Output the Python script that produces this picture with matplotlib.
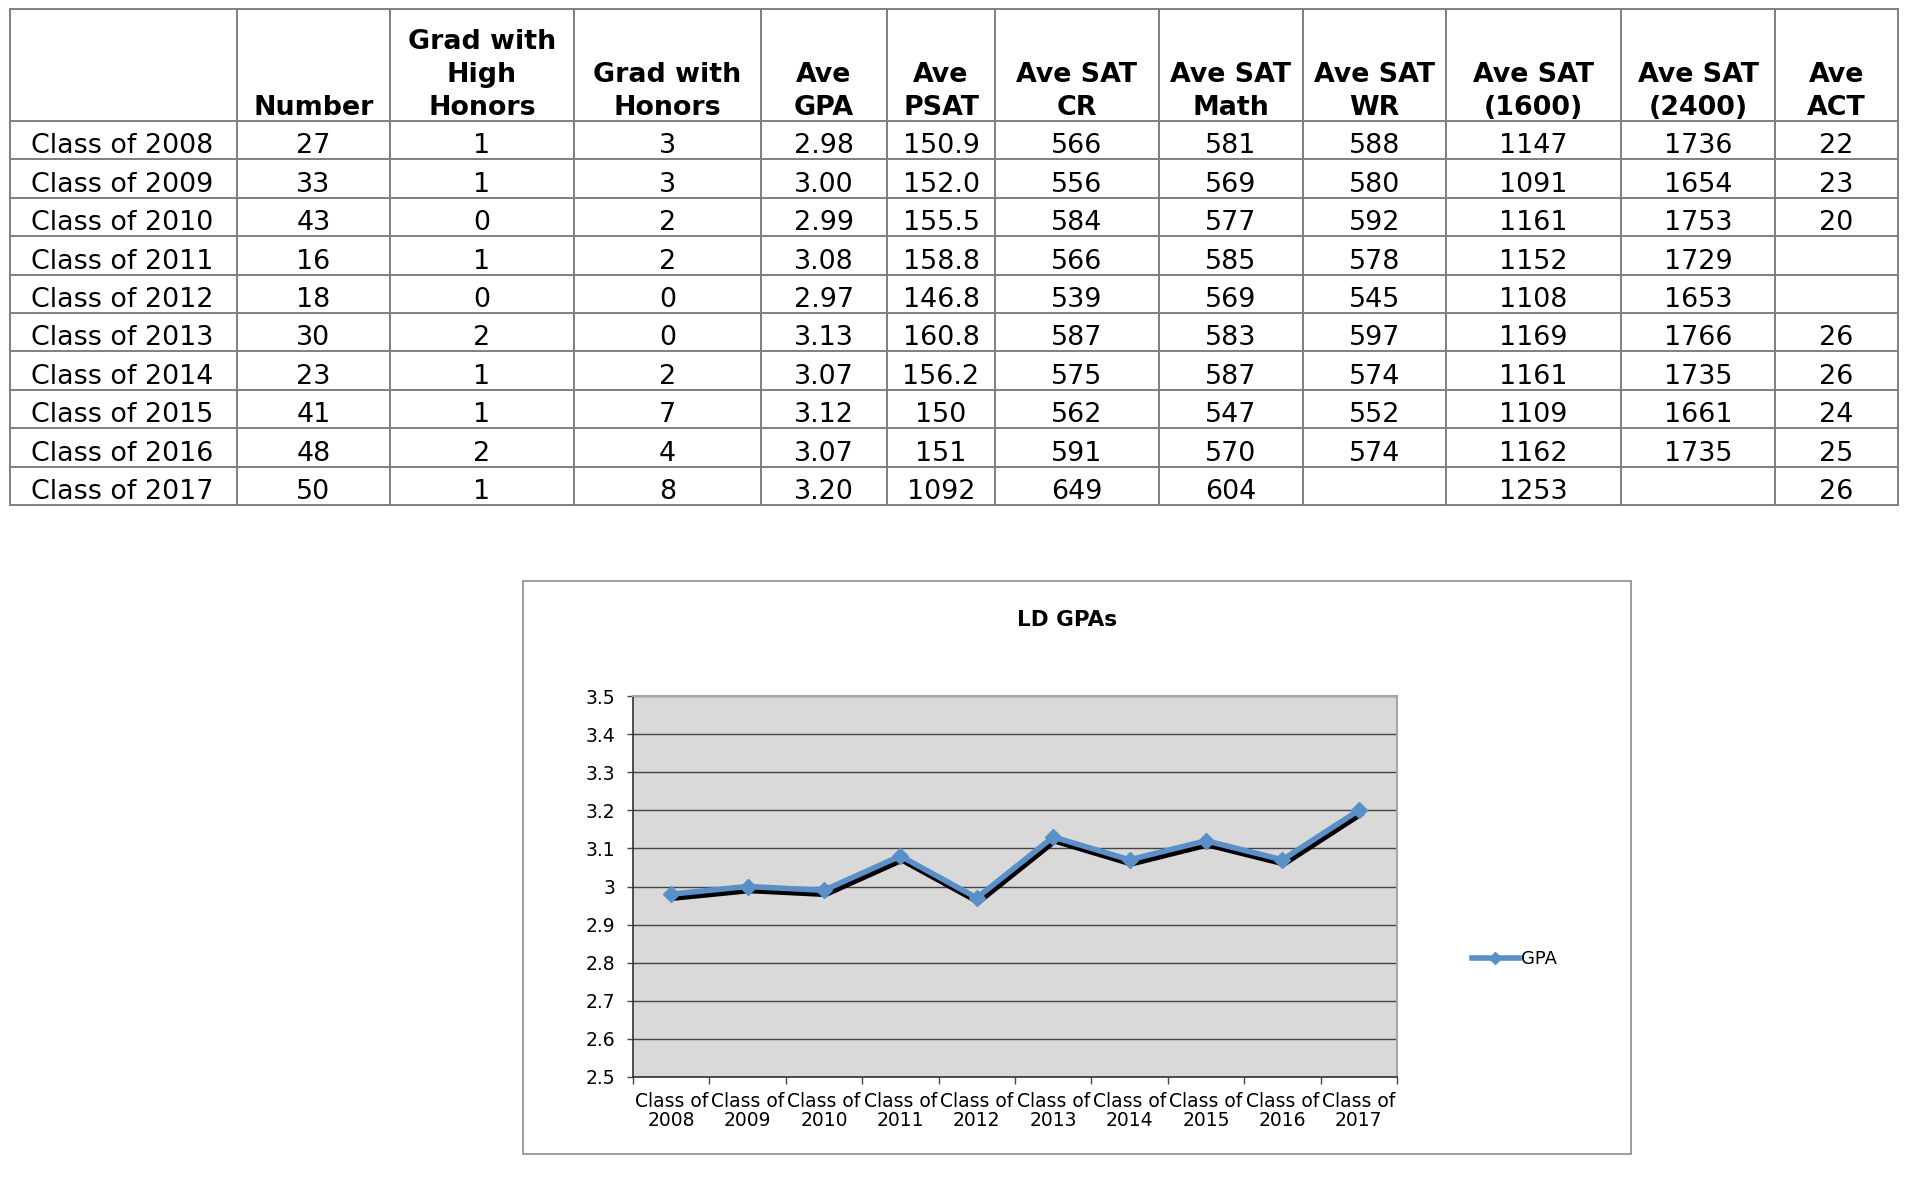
import matplotlib
matplotlib.use('Agg')
import matplotlib.pyplot as plt
import matplotlib.transforms as mtransforms
from matplotlib.patches import Rectangle
from matplotlib.ticker import FuncFormatter
import numpy as np

plt.rcParams['font.family'] = ['DejaVu Sans']

# table data (kept as text, the way it is printed)
classes = ["Class of 2008", "Class of 2009", "Class of 2010", "Class of 2011", "Class of 2012",
           "Class of 2013", "Class of 2014", "Class of 2015", "Class of 2016", "Class of 2017"]
number = ["27", "33", "43", "16", "18", "30", "23", "41", "48", "50"]
high_honors = ["1", "1", "0", "1", "0", "2", "1", "1", "2", "1"]
honors = ["3", "3", "2", "2", "0", "0", "2", "7", "4", "8"]
ave_gpa = ["2.98", "3.00", "2.99", "3.08", "2.97", "3.13", "3.07", "3.12", "3.07", "3.20"]
ave_psat = ["150.9", "152.0", "155.5", "158.8", "146.8", "160.8", "156.2", "150", "151", "1092"]
sat_cr = ["566", "556", "584", "566", "539", "587", "575", "562", "591", "649"]
sat_math = ["581", "569", "577", "585", "569", "583", "587", "547", "570", "604"]
sat_wr = ["588", "580", "592", "578", "545", "597", "574", "552", "574", ""]
sat_1600 = ["1147", "1091", "1161", "1152", "1108", "1169", "1161", "1109", "1162", "1253"]
sat_2400 = ["1736", "1654", "1753", "1729", "1653", "1766", "1735", "1661", "1735", ""]
ave_act = ["22", "23", "20", "", "", "26", "26", "24", "25", "26"]

headers = ["", "Number", "Grad with\nHigh\nHonors", "Grad with\nHonors", "Ave\nGPA", "Ave\nPSAT",
           "Ave SAT\nCR", "Ave SAT\nMath", "Ave SAT\nWR", "Ave SAT\n(1600)", "Ave SAT\n(2400)",
           "Ave\nACT"]

chart_title = "LD GPAs"
series_name = "GPA"
gpa = [float(v) for v in ave_gpa]
chart_labels = [c.replace("of ", "of\n") for c in classes]

W, H = 1928, 1188
fig = plt.figure(figsize=(W / 100, H / 100), dpi=100)

# ---- table, drawn in pixel coordinates ----
ax_t = fig.add_axes([0, 0, 1, 1])
ax_t.set_xlim(0, W)
ax_t.set_ylim(H, 0)
ax_t.axis('off')

col_edges = [10, 237, 390, 574, 761, 887, 995, 1159, 1303, 1446, 1621, 1775, 1898]
top, head_bot, row_h = 9, 121, 38.4
columns = [classes, number, high_honors, honors, ave_gpa, ave_psat, sat_cr, sat_math,
           sat_wr, sat_1600, sat_2400, ave_act]
n_rows = len(classes)
bottom = head_bot + row_h * n_rows
line_kw = dict(color='#7f7f7f', lw=1.4, solid_capstyle='projecting')

for y in [top, head_bot] + [head_bot + row_h * (i + 1) for i in range(n_rows)]:
    ax_t.plot([col_edges[0], col_edges[-1]], [y, y], **line_kw)
for x in col_edges:
    ax_t.plot([x, x], [top, bottom], **line_kw)

for j, head in enumerate(headers):
    xc = (col_edges[j] + col_edges[j + 1]) / 2
    parts = head.split("\n")
    for k, part in enumerate(parts):
        ax_t.text(xc, 115 - (len(parts) - 1 - k) * 33, part, ha='center', va='baseline',
                  fontsize=19.4, fontweight='bold', color='black')

for j, col in enumerate(columns):
    for i, val in enumerate(col):
        yb = head_bot + row_h * (i + 1) - 6
        if j == 0:
            ax_t.text(col_edges[0] + 21, yb, val, ha='left', va='baseline', fontsize=19.4)
        else:
            xc = (col_edges[j] + col_edges[j + 1]) / 2
            ax_t.text(xc, yb, val, ha='center', va='baseline', fontsize=19.4)

# chart frame and title
ax_t.add_patch(Rectangle((523, 581), 1108, 573, fill=False, ec='#8c8c8c', lw=1.2))
ax_t.text(1067, 620, chart_title, ha='center', va='center', fontsize=15.5, fontweight='bold')

# ---- line chart ----
ax = fig.add_axes([633 / W, (H - 1077) / H, 764 / W, 381 / H])
ax.set_facecolor('#d9d9d9')
x = np.arange(len(gpa))

shadow = mtransforms.offset_copy(ax.transData, fig=fig, x=1.2, y=-3.0, units='points')
ax.plot(x, gpa, color='black', lw=3.8, transform=shadow, zorder=2)
ax.plot(x, gpa, color='#5b8fc8', lw=4.0, marker='D', ms=8, mec='#5b8fc8',
        label=series_name, zorder=3)

ax.set_xlim(-0.5, len(gpa) - 0.5)
ax.set_ylim(2.5, 3.5)
ax.set_yticks(np.arange(2.5, 3.51, 0.1))
ax.yaxis.set_major_formatter(FuncFormatter(lambda v, p: f"{round(v, 1):g}"))
ax.grid(axis='y', color='#444444', lw=1.0)
ax.set_axisbelow(True)

ax.set_xticks(x)
ax.set_xticklabels(chart_labels)
ax.set_xticks(np.arange(-0.5, len(gpa), 1), minor=True)
ax.tick_params(axis='x', which='major', length=0, pad=11, labelsize=13.5)
ax.tick_params(axis='x', which='minor', length=5, width=1, color='#444444', direction='out')
ax.tick_params(axis='y', length=4.5, width=1, color='#444444', pad=8, labelsize=13.5)
for t in ax.get_xticklabels():
    t.set_linespacing(1.0)

ax.spines['left'].set_color('#333333')
ax.spines['bottom'].set_color('#333333')
ax.spines['left'].set_linewidth(1.2)
ax.spines['bottom'].set_linewidth(1.2)
ax.spines['top'].set_color('#a6a6a6')
ax.spines['right'].set_color('#a6a6a6')
ax.spines['top'].set_linewidth(1.5)
ax.spines['right'].set_linewidth(1.5)

ax.legend(loc='center left', bbox_to_anchor=(1472 / W, (H - 959) / H),
          bbox_transform=fig.transFigure, frameon=False, handlelength=2.6,
          handletextpad=0.1, borderpad=0, borderaxespad=0, fontsize=13, numpoints=1,
          markerscale=0.8)

fig.savefig('out.png', dpi=100)
